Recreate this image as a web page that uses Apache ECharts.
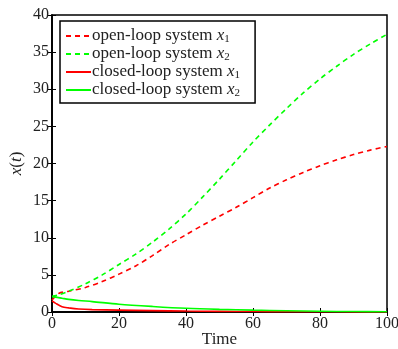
<!DOCTYPE html>
<html>
<head>
<meta charset="utf-8">
<style>
  html, body { margin: 0; padding: 0; background: #fff; }
  #chart { width: 398px; height: 349px; }
</style>
<script src="https://cdn.jsdelivr.net/npm/echarts@6/dist/echarts.min.js"></script>
</head>
<body>
<div id="chart"></div>
<script>
// values
const tOpen = [0, 2, 5, 10, 15, 20, 25, 30, 35, 40, 45, 50, 55, 60, 65, 70, 75, 80, 85, 90, 95, 100];
const openX1 = [1.6, 2.5, 2.8, 3.3, 4.1, 5.1, 6.2, 7.6, 9.1, 10.4, 11.7, 12.9, 14.1, 15.4, 16.7, 17.8, 18.8, 19.7, 20.5, 21.2, 21.8, 22.3];
const openX2 = [2.1, 2.3, 2.8, 3.8, 5.0, 6.4, 7.8, 9.4, 11.2, 13.2, 15.5, 17.9, 20.4, 22.9, 25.2, 27.4, 29.5, 31.4, 33.1, 34.7, 36.1, 37.4];

const tClosed = [0, 1, 3, 5, 8, 12, 20, 30, 40, 50, 60, 70, 80, 90, 100];
const closedX1 = [1.5, 1.2, 0.7, 0.55, 0.4, 0.32, 0.25, 0.18, 0.13, 0.09, 0.06, 0.04, 0.03, 0.02, 0.01];
const closedX2 = [2.05, 2.0, 1.85, 1.7, 1.55, 1.4, 1.05, 0.75, 0.5, 0.35, 0.25, 0.17, 0.1, 0.06, 0.04];

const xTicks = [0, 20, 40, 60, 80, 100];
const yTicks = [0, 5, 10, 15, 20, 25, 30, 35, 40];

function pairs(ts, vs) {
  return ts.map((t, i) => [t, vs[i]]);
}

const chart = echarts.init(document.getElementById('chart'));
const serif = 'Liberation Serif';
const ink = '#222';
const rich = {
  i: { fontFamily: serif, fontStyle: 'italic', fontSize: 17, lineHeight: 18, color: ink },
  s: { fontFamily: serif, fontSize: 11, lineHeight: 11, color: ink, verticalAlign: 'bottom', padding: [7, 0, 0, 0] }
};
const tickStyle = { inside: true, length: 4, lineStyle: { color: '#000' } };

chart.setOption({
  animation: false,
  grid: {
    left: 52, right: 11, top: 15, bottom: 37,
    outerBoundsMode: 'none',
    show: true, borderColor: '#000', borderWidth: 1.5
  },
  legend: {
    left: 60, top: 21,
    orient: 'vertical',
    backgroundColor: '#fff',
    borderColor: '#000',
    borderWidth: 1.5,
    borderRadius: 0,
    padding: [6, 15, 4, 5],
    itemGap: 0,
    itemWidth: 25,
    itemHeight: 13,
    itemStyle: { opacity: 0 },
    textStyle: { fontFamily: serif, fontSize: 17, lineHeight: 18, color: ink, rich: rich, padding: [0, 0, 0, -4] },
    formatter: function (name) {
      const parts = name.split('|');
      return parts[0] + ' {i|x}{s|' + parts[1] + '}';
    },
    data: ['open-loop system|1', 'open-loop system|2', 'closed-loop system|1', 'closed-loop system|2']
  },
  xAxis: [{
    type: 'value', min: 0, max: 100, interval: 20,
    name: 'Time', nameLocation: 'middle', nameGap: 19, nameMoveOverlap: false,
    nameTextStyle: { fontFamily: serif, fontSize: 17, color: ink },
    axisLine: { onZero: false, lineStyle: { color: '#000', width: 1.5 } },
    axisTick: tickStyle,
    axisLabel: { fontFamily: serif, fontSize: 16, color: ink, margin: 4,
      customValues: xTicks },
    splitLine: { show: false }
  }, {
    type: 'value', min: 0, max: 100, interval: 20, position: 'top',
    axisLine: { lineStyle: { color: '#000', width: 1.5 } },
    axisTick: tickStyle,
    axisLabel: { show: false },
    splitLine: { show: false }
  }],
  yAxis: [{
    type: 'value', min: 0, max: 40, interval: 5,
    name: '{i|x}({i|t})', nameLocation: 'middle', nameGap: 27, nameRotate: 90, nameMoveOverlap: false,
    nameTextStyle: {
      fontFamily: serif, fontSize: 17, color: ink,
      rich: { i: { fontFamily: serif, fontStyle: 'italic', fontSize: 17, color: ink } }
    },
    axisLine: { onZero: false, lineStyle: { color: '#000', width: 1.5 } },
    axisTick: tickStyle,
    axisLabel: { fontFamily: serif, fontSize: 16, color: ink, margin: 3,
      customValues: yTicks },
    splitLine: { show: false }
  }, {
    type: 'value', min: 0, max: 40, interval: 5, position: 'right',
    axisLine: { show: true, lineStyle: { color: '#000', width: 1.5 } },
    axisTick: Object.assign({ show: true }, tickStyle),
    axisLabel: { show: false },
    splitLine: { show: false }
  }],
  series: [{
    name: 'open-loop system|1', type: 'line', symbol: 'none', smooth: 0.3,
    lineStyle: { color: '#ff0000', width: 1.6, type: [5, 4] },
    itemStyle: { color: '#ff0000' },
    data: pairs(tOpen, openX1)
  }, {
    name: 'open-loop system|2', type: 'line', symbol: 'none', smooth: 0.3,
    lineStyle: { color: '#00ff00', width: 1.6, type: [5, 4] },
    itemStyle: { color: '#00ff00' },
    data: pairs(tOpen, openX2)
  }, {
    name: 'closed-loop system|1', type: 'line', symbol: 'none', smooth: 0.3,
    lineStyle: { color: '#ff0000', width: 1.6 },
    itemStyle: { color: '#ff0000' },
    data: pairs(tClosed, closedX1)
  }, {
    name: 'closed-loop system|2', type: 'line', symbol: 'none', smooth: 0.3,
    lineStyle: { color: '#00ff00', width: 1.6 },
    itemStyle: { color: '#00ff00' },
    data: pairs(tClosed, closedX2)
  }]
});
</script>
</body>
</html>
